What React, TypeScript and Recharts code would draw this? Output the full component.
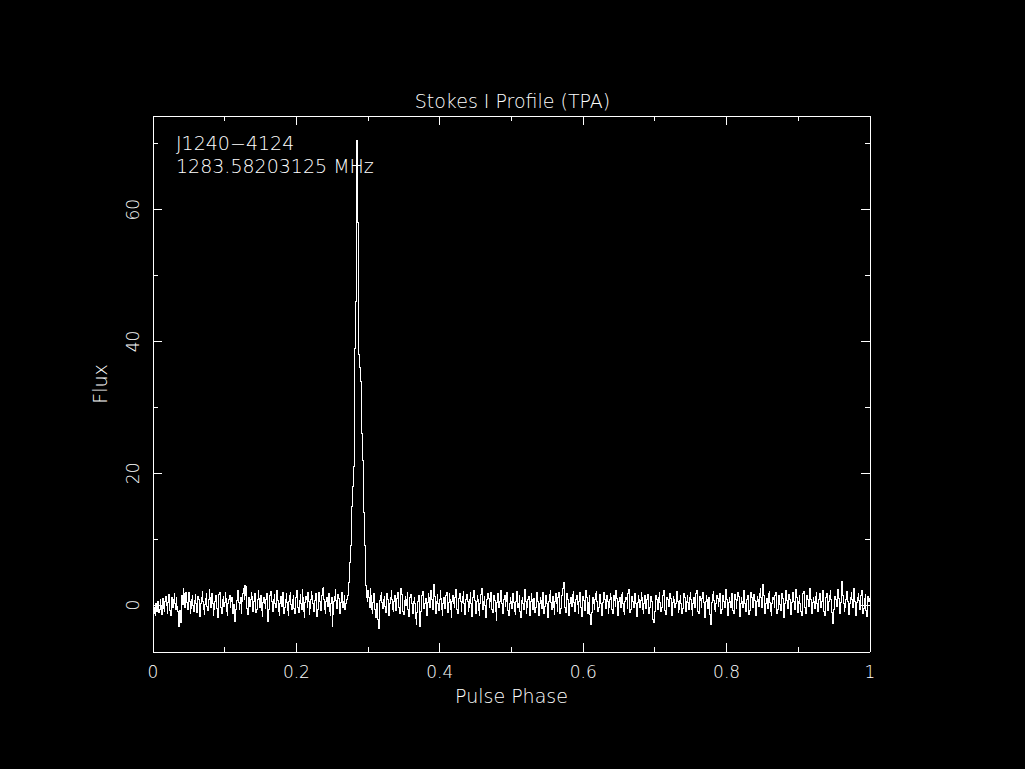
import React from 'react';
import { LineChart, Line, XAxis, YAxis } from 'recharts';

// Stokes I flux per phase bin (1024 bins), split into regions
// bins 0-276: off-pulse baseline before the pulse
const noiseA: number[] = [
  -0.7, -1.2, -0.4, -1.6, 0.2, -0.9, -0.3, 0.5, -1.1, -0.6, 0.8, -0.2, -1.4, 0.3, 1.0, -0.5,
  -0.9, 0.6, 1.3, -0.1, -1.2, 0.4, 1.6, 0.7, -0.8, -1.5, 0.2, 1.1, -0.4, 0.9, 1.8, 0.3,
  -0.6, 1.2, -0.2, -1.0, -2.1, -3.3, -0.8, -2.6, 0.5, 1.4, 0.1, 2.5, 1.7, -0.3, 0.8, 1.9,
  0.4, -0.7, 1.1, 2.0, 0.6, -1.3, -0.5, 0.9, 1.5, -0.1, -0.9, 0.7, 1.6, 0.2, -1.1, 0.5,
  1.3, 0.8, -0.4, -1.7, 0.3, 1.2, 2.1, 0.6, -0.6, -1.4, 0.1, 1.0, 1.7, -0.2, -0.8, 0.9,
  2.4, 1.1, -0.3, 0.5, 1.8, 0.2, -1.5, -0.7, 0.6, 1.4, 0.9, -0.5, -1.9, 0.3, 1.6, 2.0,
  0.7, -0.4, -1.2, 0.8, 1.3, -0.2, 0.4, 1.9, 1.0, -0.9, -1.6, 0.2, 0.9, 1.5, -0.3, 0.6,
  1.2, -0.8, -1.3, 0.1, -1.0, -2.5, -0.6, 0.7, 1.6, 2.2, 0.4, -0.7, 0.3, 1.1, -1.2, 0.5,
  1.8, 2.6, 0.9, 3.0, 1.4, 2.8, -0.5, -1.4, 0.6, 1.2, -0.2, 0.8, 2.0, 1.3, -0.9, -0.3,
  0.5, 1.7, 0.2, -1.1, -0.6, 0.9, 2.3, 1.0, -0.4, 0.6, 1.5, -0.8, -1.7, 0.4, 1.2, 0.3,
  -0.5, 0.9, 1.8, -1.3, -2.4, -0.7, 0.6, 1.4, 2.1, 0.5, -0.6, -1.0, 0.8, 1.6, 0.2, -0.4,
  1.1, 2.2, 0.7, -0.9, -1.5, 0.3, 1.3, 0.6, -0.2, 1.9, 1.0, -1.2, -0.3, 0.8, 1.7, 0.4,
  -0.8, -1.6, 0.5, 1.4, 2.0, 0.1, -0.7, 0.9, 1.5, -0.5, -1.3, 0.2, 1.1, 2.3, 0.6, -0.4,
  -1.1, 0.7, 1.6, 0.3, -0.6, 2.4, 1.2, -0.9, -1.8, 0.4, 1.3, 0.8, -0.3, 1.9, 0.5, -1.4,
  -0.5, 0.9, 2.1, 1.4, 0.2, -1.0, -0.4, 0.7, 1.8, 0.3, -1.7, -0.6, 1.0, 2.0, 0.6, -0.8,
  0.4, 1.5, 2.5, 2.7, 0.8, -0.6, -1.3, 0.5, 1.2, -0.2, 0.9, 1.7, -0.9, -1.5, 0.3, 1.1,
  -3.2, -1.4, 0.6, 1.3, 2.4, 0.7, -0.5, 0.2, 1.6, 1.0, -0.8, -1.2, 0.4, 1.9, 0.9, -0.3,
  0.5, 1.4, -0.6, 0.2, 0.9,
];

// bins 277-305: the pulse
const pulse: number[] = [
  0.8, 1.5, 3.5, 5.0, 6.5, 9.0, 12.0, 15.0, 18.0, 19.0, 21.0, 39.0, 46.0, 62.0, 70.5,
  58.0, 47.0, 38.0, 36.0, 35.5, 34.0, 26.0, 22.0, 19.0, 14.0, 9.0, 6.0, 3.0, 1.2,
];

// bins 306-1023: off-pulse baseline after the pulse
const noiseB: number[] = [
  0.6, 2.3, 1.1, -0.4, 2.6, 1.5, -0.7, -1.3, 0.4, 1.8, 0.9, -0.6, -1.9, 0.3,
  -1.4, -2.2, -3.6, -0.8, 0.7, 1.5, 2.0, 0.4, -0.5, 0.9, 1.3, -0.2, -1.1, 0.6, 1.7, 0.8,
  -0.3, -1.5, 0.2, 1.2, 2.2, 0.9, -0.6, -1.0, 0.5, 1.4, 0.1, -0.8, 1.0, 1.9, 0.6, -0.4,
  -1.2, 0.3, 2.5, 1.6, 0.4, -0.9, -1.4, 0.7, 1.3, -0.1, 0.8, 2.0, -0.6, -1.7, 0.2, 1.1,
  1.6, 0.3, -0.8, -1.3, 0.5, 1.2, 0.2, -2.0, -2.9, -1.1, 0.6, 1.4, 0.9, -3.2, -1.0, 0.4,
  1.5, 2.1, 0.7, -0.5, 0.3, 1.0, -0.9, -1.6, 0.4, 1.8, 1.2, -0.3, 0.6, 2.3, 0.8, -0.7,
  1.9, 3.2, 1.3, -0.4, -1.2, 0.5, 1.6, 0.2, -0.8, 0.9, 2.2, 1.0, -0.6, -1.5, 0.3, 1.1,
  0.7, -0.5, 1.4, 2.0, -0.2, -1.1, 0.4, 1.7, 0.9, -0.7, -1.8, 0.6, 1.5, 0.3, -0.4, 1.2,
  2.4, 0.8, -0.6, -1.3, 0.1, 1.0, 1.8, 0.5, -0.9, 0.4, 1.3, 2.1, 0.2, -1.4, -0.3, 0.9,
  1.6, 0.6, -1.0, -0.4, 0.8, 1.9, 0.3, -1.7, -0.6, 1.1, 2.2, 0.7, -0.2, -1.2, 0.5, 1.4,
  0.9, -0.8, -1.5, 0.2, 1.6, 2.5, 0.4, -0.7, 0.6, 1.3, -0.1, -1.9, -0.5, 0.8, 1.7, 1.0,
  -0.3, 0.5, 2.0, 1.2, -0.6, -1.1, 0.3, 1.5, 0.7, -0.9, -2.3, 0.4, 1.8, 0.9, -0.4, 0.6,
  1.1, 2.3, 0.2, -1.3, -0.7, 0.8, 1.4, -0.2, 0.5, 1.9, 1.0, -0.8, -1.6, 0.3, 1.2, 0.6,
  -0.5, 0.9, 1.7, 0.4, -1.0, -1.4, 0.6, 2.1, 1.3, -0.3, 0.2, 1.5, -0.9, -1.8, 0.7, 1.1,
  0.3, -0.6, 1.6, 2.4, 0.5, -1.2, -0.4, 0.9, 1.3, 0.1, -1.5, 0.6, 1.8, 0.8, -0.7, 0.4,
  1.0, -1.1, -0.3, 1.4, 2.0, 0.6, -0.8, -1.6, 0.2, 1.2, 0.7, -0.5, 1.9, 1.1, -1.3, -0.2,
  0.8, 1.5, 0.3, -1.0, -1.9, 0.5, 1.6, 2.2, 0.4, -0.6, 0.9, 1.3, -0.4, -1.4, 0.6, 1.7,
  0.2, -0.9, 1.1, 2.0, 0.7, -1.2, -0.5, 0.4, 1.4, 2.6, 3.5, 1.2, -0.3, -1.1, 0.5, 1.8,
  0.9, -0.7, -1.5, 0.3, 1.2, 0.6, -0.2, 1.6, 2.1, 0.4, -1.0, -0.6, 0.8, 1.4, 0.1, -1.3,
  0.5, 1.9, 1.0, -0.4, -1.7, 0.2, 1.3, 0.7, -0.8, 0.6, 2.3, 1.1, -0.5, -1.2, 0.4, 1.5,
  -1.4, -3.0, -1.1, 0.6, 1.2, 0.3, -0.7, 0.9, 1.7, 2.1, 0.5, -0.9, -0.3, 1.0, 1.6, 0.2,
  -1.0, -1.6, 0.4, 1.3, 2.0, 0.8, -0.5, 0.3, 1.5, 0.6, -1.2, -0.4, 0.9, 1.8, 1.2, -0.6,
  -1.3, 0.2, 1.4, 0.7, -0.2, 2.2, 1.0, -0.8, -1.5, 0.5, 1.1, 0.4, -0.3, 1.6, 1.9, 0.3,
  -0.9, -1.4, 0.6, 1.2, 0.8, -0.5, 1.7, 2.4, 0.2, -1.1, -0.6, 0.9, 1.3, 0.5, -0.4, 1.0,
  1.8, 0.3, -1.0, -1.7, 0.4, 1.5, 0.9, -0.3, 0.7, 2.0, 1.1, -0.7, -1.3, 0.2, 1.4, 0.6,
  -0.5, 0.8, 1.6, 0.1, -1.2, -0.4, 0.9, 1.3, 0.5, -1.6, -2.1, -2.6, -0.9, 0.6, 1.5, 0.8,
  0.2, -0.7, 1.1, 1.9, 0.4, -1.0, -0.3, 0.7, 1.4, 2.2, 0.6, -0.8, -1.4, 0.3, 1.2, 0.9,
  -0.2, 0.5, 1.7, 1.0, -0.9, -1.5, 0.4, 1.3, 0.8, -0.4, 0.2, 1.6, 2.1, 0.5, -1.1, -0.6,
  0.7, 1.4, 0.3, -1.3, -0.5, 0.9, 1.8, 1.1, -0.2, -1.0, 0.6, 1.5, 0.4, -0.7, 1.2, 2.0,
  0.8, -0.6, -1.6, 0.3, 1.1, 0.6, -0.4, 1.7, 2.3, 0.5, -0.9, -1.2, 0.2, 1.3, 0.7, -0.3,
  1.0, 1.9, 0.4, -1.1, -1.8, 0.5, 1.4, 0.9, -0.5, 0.2, 1.2, -1.4, -3.0, -1.3, 0.4, 1.6,
  2.1, 0.7, -0.6, -1.0, 0.3, 1.5, 1.0, -0.2, 0.6, 1.8, 0.2, -1.3, -0.7, 0.9, 1.4, 0.5,
  -0.4, 1.1, 2.4, 0.8, -0.9, -1.5, 0.4, 1.2, 0.6, -0.3, 1.7, 1.0, -0.8, -1.2, 0.3, 1.6,
  0.9, -0.5, 0.7, 2.0, 1.3, -0.6, -1.7, 0.2, 1.1, 0.5, -0.4, 1.5, 2.2, 0.3, -1.0, -0.5,
  0.8, 1.4, 0.1, -1.4, -0.8, 0.6, 1.9, 1.2, -0.3, 0.4, 1.6, 0.7, -1.1, -1.6, 0.5, 1.3,
  0.9, -0.2, 1.8, 2.5, 1.1, -0.4, 0.6, 3.2, 1.4, -0.7, -1.3, 0.3, 1.0, 0.6, -0.5, 1.7,
  2.1, 0.4, -0.9, -1.5, 0.2, 1.2, 0.8, -0.3, 1.5, 2.0, 0.5, -1.2, -0.6, 0.9, 1.4, 0.1,
  -0.8, 0.6, 1.7, 1.0, -0.4, -1.8, 0.3, 1.3, 2.2, 0.7, -0.5, 0.2, 1.6, 0.9, -1.0, -1.4,
  0.4, 1.1, 1.9, 0.5, -0.6, 0.8, 2.4, 1.2, -0.3, -1.1, 0.6, 1.5, 0.3, -0.9, -1.6, 0.5,
  1.8, 2.1, 0.7, -0.4, -1.2, 0.3, 1.4, 0.9, -0.2, 1.6, 2.6, 0.8, -0.7, -1.3, 0.4, 1.2,
  0.6, -0.5, 1.3, 2.0, 0.2, -1.0, -0.6, 0.9, 1.7, 1.1, -0.3, 0.5, 2.3, 0.7, -0.9, -1.5,
  0.3, 1.2, 1.8, 0.4, -0.8, 0.6, 1.5, 2.2, 0.9, -1.1, -1.9, -2.8, -0.7, 0.5, 1.3, 0.8,
  -0.2, 1.6, 2.4, 1.0, -0.5, -1.2, 0.4, 1.9, 3.6, 1.4, 0.2, -0.9, -0.4, 0.8, 1.7, 2.1,
  0.6, -0.7, -1.4, 0.3, 1.2, 2.0, 0.9, -0.3, 1.5, 2.6, 0.5, -1.0, -1.6, 0.4, 1.1, 1.8,
  0.7, -0.6, 0.2, 1.4, 2.2, 0.3, -1.3, -0.5, 1.0, 1.6, -0.8, -1.7, 0.4, 1.3, 0.6, 1.0,
];

const xTicks: number[] = [0, 0.1, 0.2, 0.3, 0.4, 0.5, 0.6, 0.7, 0.8, 0.9, 1];
const xTickLabels: string[] = ['0', '', '0.2', '', '0.4', '', '0.6', '', '0.8', '', '1'];
const yTicks: number[] = [0, 10, 20, 30, 40, 50, 60, 70];
const yTickLabels: string[] = ['0', '', '20', '', '40', '', '60', ''];

const titleText = 'Stokes I Profile (TPA)';
const xLabelText = 'Pulse Phase';
const yLabelText = 'Flux';
const sourceName = 'J1240\u22124124';
const freqText = '1283.58203125 MHz';

const flux = [...noiseA, ...pulse, ...noiseB];
const data = flux.map((v, i) => ({ phase: (i + 0.5) / flux.length, flux: v }));

const FONT = '"DejaVu Sans ExtraLight", "DejaVu Sans", sans-serif';
const W = '#ffffff';

const BottomTick = (props: any) => {
  const { x, y, index } = props;
  const major = xTickLabels[index] !== '';
  return (
    <g>
      <line x1={x} y1={y} x2={x} y2={y - (major ? 9 : 5)} stroke={W} strokeWidth={1} shapeRendering="crispEdges" />
      {major && (
        <text x={x} y={y + 20} fill={W} fontSize={17} fontFamily={FONT} fontWeight={200} textAnchor="middle" dominantBaseline="central">
          {xTickLabels[index]}
        </text>
      )}
    </g>
  );
};

const TopTick = (props: any) => {
  const { x, y, index } = props;
  const major = xTickLabels[index] !== '';
  return <line x1={x} y1={y} x2={x} y2={y + (major ? 9 : 5)} stroke={W} strokeWidth={1} shapeRendering="crispEdges" />;
};

const LeftTick = (props: any) => {
  const { x, y, index } = props;
  const major = yTickLabels[index] !== '';
  return (
    <g>
      <line x1={x} y1={y} x2={x + (major ? 9 : 5)} y2={y} stroke={W} strokeWidth={1} shapeRendering="crispEdges" />
      {major && (
        <text
          x={x - 20}
          y={y}
          fill={W}
          fontSize={17}
          fontFamily={FONT}
          fontWeight={200}
          textAnchor="middle"
          dominantBaseline="central"
          transform={`rotate(-90, ${x - 20}, ${y})`}
        >
          {yTickLabels[index]}
        </text>
      )}
    </g>
  );
};

const RightTick = (props: any) => {
  const { x, y, index } = props;
  const major = yTickLabels[index] !== '';
  return <line x1={x} y1={y} x2={x - (major ? 9 : 5)} y2={y} stroke={W} strokeWidth={1} shapeRendering="crispEdges" />;
};

const textStyle: React.CSSProperties = {
  position: 'absolute',
  color: W,
  fontFamily: FONT,
  fontWeight: 200,
  fontSize: 19,
  whiteSpace: 'nowrap',
  lineHeight: '1',
};

export default function App() {
  return (
    <div style={{ position: 'fixed', left: 0, top: 0, width: 1025, height: 769, background: '#000', overflow: 'hidden' }}>
      <LineChart
        width={1025}
        height={769}
        data={data}
        margin={{ top: 106, right: 145, bottom: 87, left: 93 }}
      >
        <XAxis
          xAxisId="bottom"
          dataKey="phase"
          type="number"
          domain={[0, 1]}
          ticks={xTicks}
          interval={0}
          height={30}
          tickSize={0}
          tickMargin={0}
          tickLine={false}
          axisLine={{ stroke: W, shapeRendering: 'crispEdges' }}
          tick={<BottomTick />}
          allowDataOverflow
        />
        <XAxis
          xAxisId="top"
          orientation="top"
          dataKey="phase"
          type="number"
          domain={[0, 1]}
          ticks={xTicks}
          interval={0}
          height={10}
          tickSize={0}
          tickMargin={0}
          tickLine={false}
          axisLine={{ stroke: W, shapeRendering: 'crispEdges' }}
          tick={<TopTick />}
          allowDataOverflow
        />
        <YAxis
          yAxisId="left"
          type="number"
          domain={[-7.1, 74.2]}
          ticks={yTicks}
          interval={0}
          width={60}
          tickSize={0}
          tickMargin={0}
          tickLine={false}
          axisLine={{ stroke: W, shapeRendering: 'crispEdges' }}
          tick={<LeftTick />}
          allowDataOverflow
        />
        <YAxis
          yAxisId="right"
          orientation="right"
          type="number"
          domain={[-7.1, 74.2]}
          ticks={yTicks}
          interval={0}
          width={10}
          tickSize={0}
          tickMargin={0}
          tickLine={false}
          axisLine={{ stroke: W, shapeRendering: 'crispEdges' }}
          tick={<RightTick />}
          allowDataOverflow
        />
        <Line
          xAxisId="bottom"
          yAxisId="left"
          type="step"
          dataKey="flux"
          stroke={W}
          strokeWidth={1}
          shapeRendering="crispEdges"
          dot={false}
          activeDot={false}
          isAnimationActive={false}
        />
      </LineChart>
      <div style={{ ...textStyle, left: 0, width: 1025, top: 92, textAlign: 'center' }}>{titleText}</div>
      <div style={{ ...textStyle, left: 153, width: 717, top: 687, textAlign: 'center' }}>{xLabelText}</div>
      <div
        style={{
          ...textStyle,
          left: 100,
          top: 384,
          transform: 'translate(-50%, -50%) rotate(-90deg)',
        }}
      >
        {yLabelText}
      </div>
      <div style={{ ...textStyle, left: 176, top: 134 }}>{sourceName}</div>
      <div style={{ ...textStyle, left: 176, top: 157 }}>{freqText}</div>
    </div>
  );
}
